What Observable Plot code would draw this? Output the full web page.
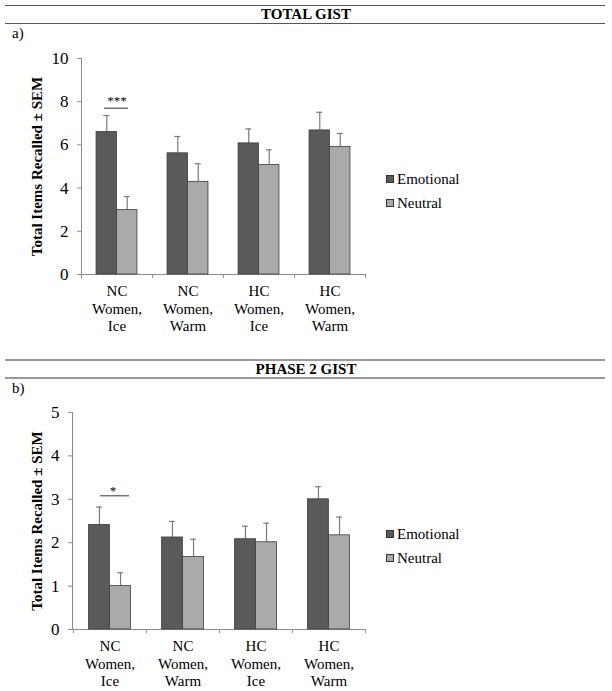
<!DOCTYPE html>
<html><head><meta charset="utf-8">
<script src="https://cdn.jsdelivr.net/npm/d3@7"></script>
<script src="https://cdn.jsdelivr.net/npm/@observablehq/plot@0.6"></script>
<style>
body{margin:0;background:#fff;font-family:"Liberation Serif","Times New Roman",serif;color:#000;}
#page{position:relative;width:612px;height:691px;overflow:hidden;}
svg text, svg tspan{font-family:"Liberation Serif","Times New Roman",serif !important;}
.hline{position:absolute;left:5px;width:600px;height:0;}
.title{position:absolute;left:0;width:612px;text-align:center;font-weight:bold;font-size:15px;line-height:18px;}
.tag{position:absolute;left:12px;font-size:15px;line-height:18px;}
.panel{position:absolute;left:0;}
.litem{position:absolute;white-space:nowrap;font-size:15px;line-height:18px;display:flex;align-items:center;}
.sw{display:inline-block;width:6px;height:6px;border:1px solid #333;margin-right:3px;}
</style></head><body><div id="page"></div>
<script>
// ---- data ----
const groups = ["NC Women, Ice", "NC Women, Warm", "HC Women, Ice", "HC Women, Warm"];
const conditions = ["Emotional", "Neutral"];
const colors = ["#5a5a5a", "#aaaaaa"];
const yLabel = "Total Items Recalled \u00b1 SEM";

const totalTitle = "TOTAL GIST";
const totalTag = "a)";
const totalTicks = [0, 2, 4, 6, 8, 10];
const totalEmotional = [6.6, 5.61, 6.07, 6.67];
const totalEmotionalSem = [0.76, 0.78, 0.67, 0.84];
const totalNeutral = [2.98, 4.29, 5.07, 5.9];
const totalNeutralSem = [0.63, 0.84, 0.7, 0.63];
const totalSig = [{group: "NC Women, Ice", y: 7.7, label: "***"}];

const phaseTitle = "PHASE 2 GIST";
const phaseTag = "b)";
const phaseTicks = [0, 1, 2, 3, 4, 5];
const phaseEmotional = [2.41, 2.12, 2.08, 3.0];
const phaseEmotionalSem = [0.41, 0.37, 0.30, 0.29];
const phaseNeutral = [1.0, 1.67, 2.01, 2.17];
const phaseNeutralSem = [0.31, 0.41, 0.44, 0.42];
const phaseSig = [{group: "NC Women, Ice", y: 3.08, label: "*"}];

// ---- layout ----
const FONT = "'Liberation Serif','Times New Roman',serif";
const page = document.getElementById("page");
function addDiv(cls, css, text) {
  const d = document.createElement("div");
  d.className = cls;
  Object.assign(d.style, css);
  if (text != null) d.textContent = text;
  page.appendChild(d);
  return d;
}

function header(y1, y2, color, w, title, tag, tagY) {
  addDiv("hline", {top: (y1 - w / 2) + "px", borderTop: w + "px solid " + color});
  addDiv("hline", {top: (y2 - w / 2) + "px", borderTop: w + "px solid " + color});
  addDiv("title", {top: ((y1 + y2) / 2 - 9) + "px"}, title);
  addDiv("tag", {top: (tagY - 9) + "px"}, tag);
}

function panel(o) {
  const data = [];
  groups.forEach((g, i) => {
    data.push({group: g, condition: "Emotional", value: o.emo[i], sem: o.emoSem[i]});
    data.push({group: g, condition: "Neutral", value: o.neu[i], sem: o.neuSem[i]});
  });
  const W = 612;
  const bw = (W - o.mL - o.mR) / groups.length;
  const outer = bw * 0.212;
  const barW = (bw - 2 * outer) / 2;
  const inset = {Emotional: [outer, bw - outer - barW], Neutral: [outer + barW, outer]};
  const center = {Emotional: outer + barW / 2, Neutral: outer + barW * 1.5};
  const axisColor = "#8c8c8c";
  const errColor = "#7a7a7a";
  const marks = [
    Plot.frame({anchor: "left", stroke: axisColor}),
    Plot.ruleY([0], {stroke: axisColor}),
    Plot.ruleX(groups, {x: d => d, y1: 0, y2: 0, dx: -bw / 2, insetBottom: -4, stroke: axisColor}),
    Plot.ruleX(groups.slice(-1), {x: d => d, y1: 0, y2: 0, dx: bw / 2, insetBottom: -4, stroke: axisColor}),
  ];
  conditions.forEach(c => {
    const dc = data.filter(d => d.condition === c);
    marks.push(Plot.ruleX(dc, {x: "group", y1: "value", y2: d => d.value + d.sem,
      dx: center[c] - bw / 2, stroke: errColor, strokeWidth: 1.2}));
    marks.push(Plot.tickY(dc, {x: "group", y: d => d.value + d.sem,
      insetLeft: center[c] - 3, insetRight: bw - center[c] - 3, stroke: errColor, strokeWidth: 1.2}));
    marks.push(Plot.barY(dc, {x: "group", y: "value", fill: "condition", stroke: "#3c3c3c", strokeWidth: 0.8,
      insetLeft: inset[c][0], insetRight: inset[c][1]}));
  });
  marks.push(
    Plot.tickY(o.sig, {x: "group", y: "y", insetLeft: o.sigInset[0], insetRight: o.sigInset[1], stroke: "#333", strokeWidth: 1}),
    Plot.text(o.sig, {x: "group", y: "y", text: "label", dy: o.starDy, dx: o.starDx, fontSize: 13, fontFamily: FONT}),
    Plot.text([yLabel], {frameAnchor: "left", textAnchor: "middle", text: d => d, rotate: -90, dx: -o.labelOff,
      fontWeight: "bold", fontSize: 15, fontFamily: FONT}),
    Plot.axisY({ticks: o.ticks, tickSize: 4, tickPadding: 9, fontSize: 17, fontFamily: FONT, stroke: axisColor, label: null, tickFormat: d => d}),
    Plot.axisX({tickSize: 0, tickPadding: 9, fontSize: 15, fontFamily: FONT, lineHeight: 1.17, label: null,
      tickFormat: d => d.replaceAll(" ", "\n")})
  );
  const svg = Plot.plot({
    width: W, height: o.height,
    marginTop: o.mT, marginBottom: o.mB, marginLeft: o.mL, marginRight: o.mR,
    style: {fontFamily: FONT, color: "#000", background: "transparent"},
    x: {type: "band", domain: groups, paddingInner: 0, paddingOuter: 0},
    y: {domain: [0, o.yMax], nice: false},
    color: {domain: conditions, range: colors},
    marks
  });
  svg.classList.add("panel");
  svg.style.top = o.top + "px";
  page.appendChild(svg);
  // legend
  conditions.forEach((c, i) => {
    const it = addDiv("litem", {left: o.legX + "px", top: (o.legY[i] - 9) + "px"});
    const sw = document.createElement("span");
    sw.className = "sw";
    sw.style.background = colors[i];
    it.appendChild(sw);
    it.appendChild(document.createTextNode(c));
  });
}

panel({top: 40, height: 300, mT: 18, mB: 66, mL: 81, mR: 247, yMax: 10, ticks: totalTicks,
  emo: totalEmotional, emoSem: totalEmotionalSem, neu: totalNeutral, neuSem: totalNeutralSem,
  sig: totalSig, sigInset: [23, 24], starDy: -7, starDx: 0, labelOff: 44,
  legX: 386, legY: [179, 203]});
panel({top: 390, height: 301, mT: 22, mB: 62, mL: 72, mR: 247, yMax: 5, ticks: phaseTicks,
  emo: phaseEmotional, emoSem: phaseEmotionalSem, neu: phaseNeutral, neuSem: phaseNeutralSem,
  sig: phaseSig, sigInset: [27, 17], starDy: -5, starDx: 3, labelOff: 35,
  legX: 386, legY: [534, 558]});

header(5, 23, "#555", 1, totalTitle, totalTag, 33);
header(360, 378, "#9a9a9a", 2, phaseTitle, phaseTag, 388);
</script></body></html>
